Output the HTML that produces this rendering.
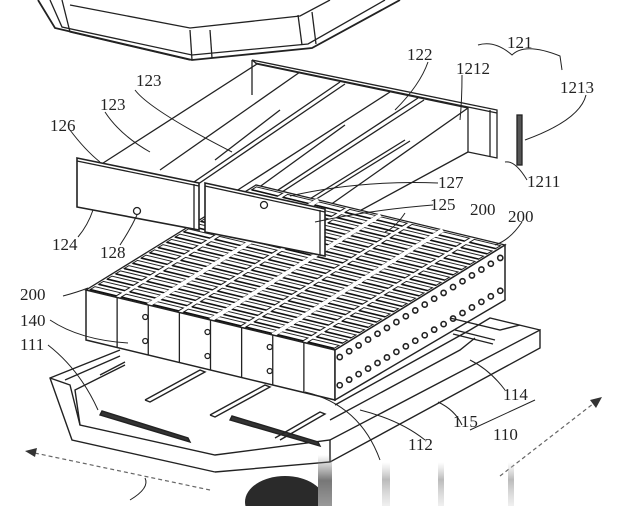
<!DOCTYPE html>
<html><head><meta charset="utf-8"><style>
html,body{margin:0;padding:0;background:#fff;width:630px;height:506px;overflow:hidden}
svg{display:block}
text{font-family:"Liberation Serif",serif;font-size:17px;fill:#222}
</style></head><body>
<svg id="s" width="630" height="506" viewBox="0 0 630 506" stroke="#222" fill="none" stroke-width="1.3">
<defs>
<linearGradient id="fd" x1="0" y1="0" x2="0" y2="1"><stop offset="0" stop-color="#ccc" stop-opacity="0"/><stop offset=".4" stop-color="#bbb"/><stop offset="1" stop-color="#ccc" stop-opacity=".3"/></linearGradient>
<linearGradient id="fd2" x1="0" y1="0" x2="0" y2="1"><stop offset="0" stop-color="#888" stop-opacity="0"/><stop offset=".5" stop-color="#777"/><stop offset="1" stop-color="#999"/></linearGradient>
</defs>
<!-- lid -->
<polyline points="38,0 55,28 192,60 312,48 400,0" stroke-width="1.8"/>
<polyline points="50,0 62,27 192,55 308,44 385,0"/>
<polyline points="62,0 70,32 190,60"/>
<line x1="190" y1="30" x2="192" y2="60"/><line x1="210" y1="30" x2="212" y2="58"/>
<polyline points="70,5 190,28 300,16 330,0"/>
<line x1="298" y1="15" x2="302" y2="45"/><line x1="312" y1="12" x2="316" y2="44"/>
<!-- tray back wall -->
<polygon points="252,60 497,110 497,158 468,152 468,108 257,64" fill="#fff"/>
<line x1="252" y1="60" x2="252" y2="95"/>
<line x1="255" y1="63" x2="497" y2="113"/>
<line x1="490" y1="110" x2="490" y2="156"/>
<!-- rails -->
<line x1="257" y1="64" x2="100" y2="165"/>
<line x1="340" y1="82" x2="175" y2="195"/><line x1="345" y1="84" x2="182" y2="195"/>
<line x1="300" y1="72" x2="160" y2="170"/>
<line x1="418" y1="98" x2="240" y2="215"/><line x1="424" y1="100" x2="248" y2="214"/>
<line x1="390" y1="92" x2="230" y2="195"/>
<line x1="468" y1="108" x2="323" y2="210"/>
<line x1="468" y1="152" x2="330" y2="227"/>
<line x1="405" y1="140" x2="300" y2="205"/><line x1="410" y1="141" x2="305" y2="206"/>
<line x1="280" y1="110" x2="215" y2="160"/><line x1="345" y1="125" x2="258" y2="188"/>
<!-- side piece 1213 -->
<rect x="517" y="115" width="5" height="50" fill="#555"/>
<!-- battery block -->
<g id="bat"></g>
<!-- front panels -->
<polygon points="77,158 199,183 199,230 77,207" fill="#fff" stroke-width="1.6"/>
<line x1="77" y1="161" x2="199" y2="186"/>
<line x1="194" y1="184" x2="194" y2="230"/>
<circle cx="137" cy="211" r="3.5"/>
<polygon points="205,183 325,209 325,256 205,232" fill="#fff" stroke-width="1.6"/>
<line x1="205" y1="186" x2="325" y2="212"/>
<line x1="320" y1="210" x2="320" y2="255"/>
<circle cx="264" cy="205" r="3.5"/>
<!-- base tray -->
<g stroke-width="1.4">
<polyline points="120,350 50,378 72,440 215,472"/>
<polyline points="50,378 70,385 80,425 215,455 330,440 540,330 540,348 330,462 215,472"/>
<polyline points="65,380 120,356"/>
<polyline points="80,425 75,390 125,365"/>
<polyline points="330,440 330,462"/>
<polyline points="335,405 470,330 490,318 540,330"/>
<polyline points="330,420 460,350 475,338"/>
<polyline points="450,318 500,330 520,325"/>
<line x1="100" y1="375" x2="125" y2="362"/>
<polygon points="100,415 190,442 188,438 102,411" fill="#333"/>
<polygon points="230,420 320,446 318,442 232,416" fill="#333"/>
<polyline points="145,400 200,370 205,372 150,402 145,400"/>
<polyline points="210,415 265,385 270,387 215,417 210,415"/>
<polyline points="275,438 320,412 325,414 280,440"/>
<line x1="455" y1="330" x2="495" y2="340"/><line x1="453" y1="334" x2="493" y2="344"/>
</g>
<!-- dashed arrows -->
<g stroke="#666" stroke-dasharray="4,3" stroke-width="1.2">
<line x1="210" y1="490" x2="30" y2="452"/>
<line x1="500" y1="476" x2="598" y2="400"/>
</g>
<polygon points="25,451 37,448 35,457" fill="#333" stroke="none"/>
<polygon points="602,397 590,400 596,408" fill="#333" stroke="none"/>
<!-- bottom blurs -->
<ellipse cx="285" cy="502" rx="40" ry="26" fill="#2a2a2a" stroke="none"/>
<rect x="318" y="455" width="14" height="51" fill="url(#fd2)" stroke="none"/>
<rect x="382" y="462" width="8" height="44" fill="url(#fd)" stroke="none"/>
<rect x="438" y="462" width="6" height="44" fill="url(#fd)" stroke="none"/>
<rect x="508" y="462" width="6" height="44" fill="url(#fd)" stroke="none"/>
<!-- leaders -->
<g stroke-width="1">
<path d="M478,45 Q495,40 512,55 Q525,42 560,56 L562,70"/>
<path d="M428,62 Q420,85 395,110"/>
<path d="M462,75 Q462,100 460,120"/>
<path d="M586,95 Q580,120 525,140"/>
<path d="M527,180 Q515,160 505,162"/>
<path d="M135,90 Q150,110 232,152"/>
<path d="M105,112 Q120,135 150,152"/>
<path d="M70,130 Q85,150 100,162"/>
<path d="M78,237 Q88,225 93,210"/>
<path d="M120,245 Q130,230 137,215"/>
<path d="M438,183 Q360,180 290,196"/>
<path d="M433,205 Q370,210 315,222"/>
<path d="M405,213 Q395,228 385,232"/>
<path d="M522,222 Q510,240 495,245"/>
<path d="M63,296 Q78,292 88,288"/>
<path d="M50,320 Q80,340 128,343"/>
<path d="M48,345 Q80,370 98,410"/>
<path d="M505,390 Q490,370 470,360"/>
<path d="M462,425 Q455,410 438,402"/>
<path d="M425,440 Q400,420 360,410"/>
<path d="M380,460 Q360,405 305,392"/>
<path d="M470,430 L535,400"/>
<path d="M145,478 Q150,488 130,500"/>
</g>
<g stroke="none">
<text x="507" y="48">121</text>
<text x="407" y="60">122</text>
<text x="456" y="74">1212</text>
<text x="560" y="93">1213</text>
<text x="527" y="187">1211</text>
<text x="136" y="86">123</text>
<text x="100" y="110">123</text>
<text x="50" y="131">126</text>
<text x="52" y="250">124</text>
<text x="100" y="258">128</text>
<text x="438" y="188">127</text>
<text x="430" y="210">125</text>
<text x="470" y="215">200</text>
<text x="508" y="222">200</text>
<text x="20" y="300">200</text>
<text x="20" y="326">140</text>
<text x="20" y="350">111</text>
<text x="503" y="400">114</text>
<text x="453" y="427">115</text>
<text x="493" y="440">110</text>
<text x="408" y="450">112</text>
</g>
</svg>
<script>
(function(){
var g=document.getElementById('bat'),NS='http://www.w3.org/2000/svg';
function el(t,a){var e=document.createElementNS(NS,t);for(var k in a)e.setAttribute(k,a[k]);g.appendChild(e);return e;}
var A=[86,290],B=[335,350],C=[505,245],D=[256,185];
el('polygon',{points:[A,B,C,D].map(p=>p.join(',')).join(' '),fill:'#fff'});
var nu=8,nv=20;
function P(u,v){return[A[0]+(B[0]-A[0])*u+(D[0]-A[0])*v,A[1]+(B[1]-A[1])*u+(D[1]-A[1])*v];}
for(var i=0;i<nu;i++)for(var j=0;j<nv;j++){
 var u0=i/nu+0.01,u1=(i+1)/nu-0.01,v0=j/nv+0.01,v1=(j+1)/nv-0.012;
 var p=[P(u0,v0),P(u1,v0),P(u1,v1),P(u0,v1)];
 el('polygon',{points:p.map(q=>q.join(',')).join(' '),fill:'#fff',stroke:'#222','stroke-width':'1'});
 var a=P(u0,v0),b=P(u1,v0);el('line',{x1:a[0],y1:a[1],x2:b[0],y2:b[1],stroke:'#111','stroke-width':'1.6'});
}
[2,4,6].forEach(function(k){var a=P(k/nu,0),b=P(k/nu,1);el('line',{x1:a[0],y1:a[1],x2:b[0],y2:b[1],stroke:'#fff','stroke-width':'4'});});
var Ab=[86,340],Bb=[335,400],Cb=[505,300];
el('polygon',{points:[A,B,Bb,Ab].map(p=>p.join(',')).join(' '),fill:'#fff','stroke-width':'1.5'});
for(var i=1;i<nu;i++){var t=P(i/nu,0);var b=[Ab[0]+(Bb[0]-Ab[0])*i/nu,Ab[1]+(Bb[1]-Ab[1])*i/nu];el('line',{x1:t[0],y1:t[1],x2:b[0],y2:b[1]});
 if(i%2==0){el('circle',{cx:t[0]-3,cy:t[1]+12,r:2.5});el('circle',{cx:b[0]-3,cy:b[1]-14,r:2.5});}}
el('polygon',{points:[B,C,Cb,Bb].map(p=>p.join(',')).join(' '),fill:'#fff','stroke-width':'1.5'});
for(var k=0;k<18;k++){var t=(k+0.5)/18;
 el('circle',{cx:B[0]+(C[0]-B[0])*t,cy:B[1]+(C[1]-B[1])*t+10,r:2.6,'stroke-width':'1.6'});
 el('circle',{cx:Bb[0]+(Cb[0]-Bb[0])*t,cy:Bb[1]+(Cb[1]-Bb[1])*t-12,r:2.6,'stroke-width':'1.6'});}
})();
</script>
</body></html>
